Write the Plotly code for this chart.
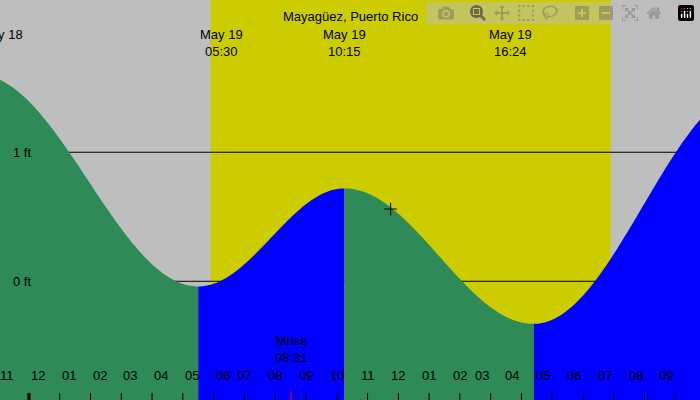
import numpy as np
import plotly.graph_objects as go

# tide extrema (hour of May 19, feet)
ext_t = [-1.65, 5.5, 10.25, 16.4, 23.5]
ext_h = [1.60, -0.04, 0.72, -0.33, 1.50]
ext_lbl = ["May 18\n", "May 19\n05:30", "May 19\n10:15", "May 19\n16:24", ""]
sunrise, sunset = 5.9, 18.9
moonrise, moonrise_lbl = 8.52, "08:31"
now_t, now_h = 11.75, 0.56
ft_lines = [0, 1]
hours = list(range(-1, 22))
XR = [-0.94, 21.8]
YR = [-0.92, 2.18]


def px(t):
    return (t - XR[0]) / (XR[1] - XR[0])


fig = go.Figure()
shapes = [
    dict(type="rect", xref="x", yref="paper", x0=sunrise, x1=sunset, y0=0, y1=1,
         fillcolor="#CCCC00", line_width=0, layer="below"),
]
for f in ft_lines:
    shapes.append(dict(type="line", xref="paper", yref="y", x0=0, x1=1, y0=f, y1=f,
                       line=dict(color="black", width=1), layer="below"))

for i in range(len(ext_t) - 1):
    t0, t1, h0, h1 = ext_t[i], ext_t[i + 1], ext_h[i], ext_h[i + 1]
    t = np.linspace(t0, t1, 120)
    h = (h0 + h1) / 2 + (h0 - h1) / 2 * np.cos(np.pi * (t - t0) / (t1 - t0))
    color = "#2E8B57" if h1 < h0 else "#0000FF"
    xs = list(t) + [t1, t0]
    ys = list(h) + [-2, -2]
    fig.add_trace(go.Scatter(x=xs, y=ys, fill="toself", fillcolor=color, mode="none",
                             hoverinfo="skip"))

fig.add_trace(go.Scatter(x=[now_t], y=[now_h], mode="markers",
                         marker=dict(symbol="cross-thin", size=9, line=dict(color="black", width=1))))

ann = []
font = dict(family="Liberation Sans", size=13, color="black")
ann.append(dict(text="Mayagüez, Puerto Rico", x=0.5, xref="paper", y=1 - 7 / 400, yref="paper",
                showarrow=False, font=font))
for t, l in zip(ext_t, ext_lbl):
    if l:
        ann.append(dict(text=l.replace("\n", "<br>"), x=px(t), xref="paper", y=1 - 25 / 400,
                        yref="paper", showarrow=False, font=font))
ann.append(dict(text="Mrise<br>" + moonrise_lbl, x=px(moonrise), xref="paper", y=1 - 367 / 400,
                yref="paper", showarrow=False, font=font))
for f in ft_lines:
    ann.append(dict(text=f"{f} ft", x=0.015, xref="paper", y=f, yref="y", showarrow=False,
                    font=font))
for hr in hours:
    lab = "%02d" % (((hr % 12) or 12))
    ann.append(dict(text=lab, x=px(hr), xref="paper", y=1 - 385 / 400, yref="paper",
                    showarrow=False, font=font))
    shapes.append(dict(type="line", xref="x", yref="paper", x0=hr, x1=hr, y0=0, y1=7 / 400,
                       line=dict(color="black", width=3 if hr == 0 else 1)))
shapes.append(dict(type="line", xref="x", yref="paper", x0=moonrise, x1=moonrise, y0=0, y1=8 / 400,
                   line=dict(color="red", width=1)))

fig.update_layout(width=700, height=400, margin=dict(l=0, r=0, t=0, b=0),
                  plot_bgcolor="#BEBEBE", paper_bgcolor="#BEBEBE", showlegend=False,
                  xaxis=dict(range=XR, visible=False), yaxis=dict(range=YR, visible=False),
                  shapes=shapes, annotations=ann)
fig.write_html("out.html", post_script="document.body.style.margin='0';")
